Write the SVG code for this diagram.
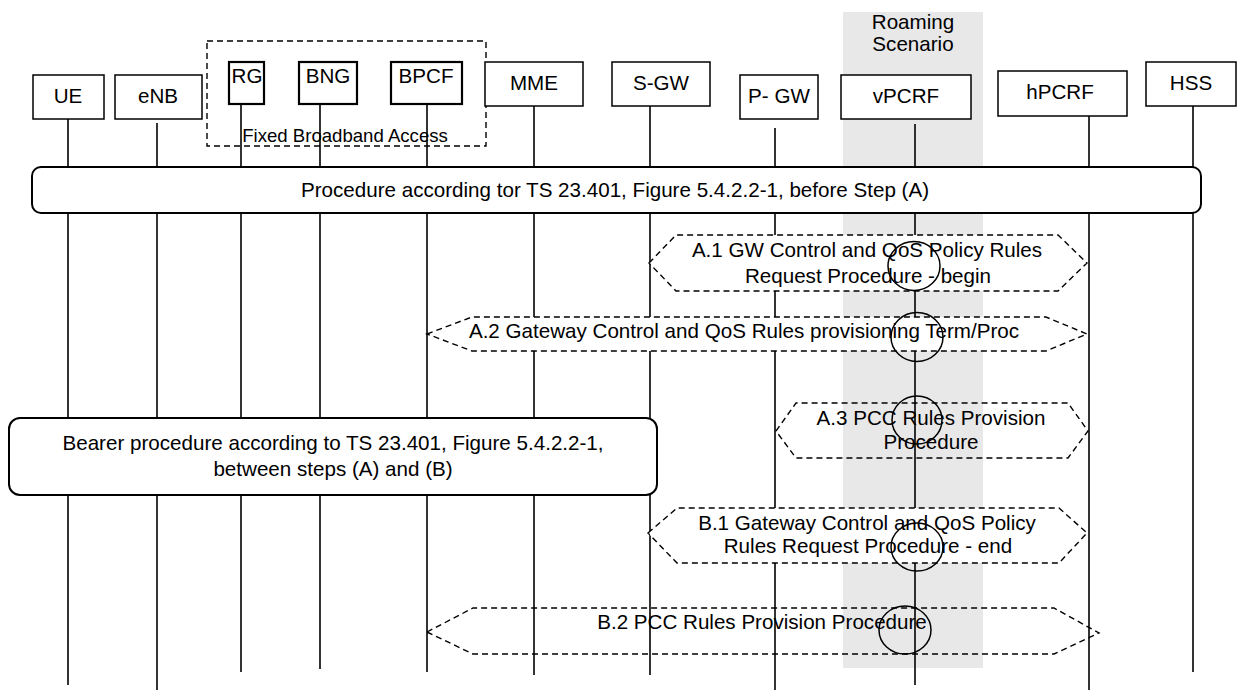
<svg xmlns="http://www.w3.org/2000/svg" width="1237" height="690" viewBox="0 0 1237 690">
<style>
text{font-family:"Liberation Sans",Arial,sans-serif;font-size:20.6px;fill:#000;text-anchor:middle}
.box{fill:#fff;stroke:#000;stroke-width:1.5}
.thick{fill:#fff;stroke:#000;stroke-width:2.2}
.life{stroke:#000;stroke-width:1.6;fill:none}
.dash{stroke:#000;stroke-width:1.4;stroke-dasharray:6 4}
.proc{fill:#fff;stroke:#000;stroke-width:2}
.ring{fill:none;stroke:#000;stroke-width:1.5}
</style>
<rect id="roaming-band" x="843" y="12" width="140" height="656" fill="#e8e8e8"/>
<text x="913" y="29">Roaming</text>
<text x="913" y="51">Scenario</text>
<g id="fixed-broadband-access">
<rect x="207" y="41" width="279" height="105" fill="none" class="dash"/>
</g>
<g id="node-UE"><line class="life" x1="68" y1="119" x2="68" y2="685"/><rect class="box" x="33" y="75" width="71" height="44" stroke-width="1"/><text x="68" y="103">UE</text></g>
<g id="node-eNB"><line class="life" x1="157" y1="123" x2="157" y2="690"/><rect class="box" x="115" y="75" width="87" height="44"/><text x="158" y="103">eNB</text></g>
<g id="node-RG"><line class="life" x1="241" y1="104" x2="241" y2="672"/><rect class="thick" x="229" y="62" width="35" height="42"/><text x="247" y="83">RG</text></g>
<g id="node-BNG"><line class="life" x1="320" y1="104" x2="320" y2="669"/><rect class="thick" x="299" y="62" width="58" height="42"/><text x="328" y="83">BNG</text></g>
<g id="node-BPCF"><line class="life" x1="427" y1="104" x2="427" y2="672"/><rect class="thick" x="391" y="62" width="71" height="42"/><text x="426" y="83">BPCF</text></g>
<text x="345" y="142" style="font-size:18.6px">Fixed Broadband Access</text>
<g id="node-MME"><line class="life" x1="534" y1="106" x2="534" y2="675"/><rect class="box" x="485" y="62" width="98" height="44"/><text x="534" y="90">MME</text></g>
<g id="node-SGW"><line class="life" x1="650" y1="106" x2="650" y2="675"/><rect class="box" x="612" y="62" width="98" height="44"/><text x="661" y="90">S-GW</text></g>
<g id="node-PGW"><line class="life" x1="775" y1="128" x2="775" y2="690"/><rect class="box" x="740" y="75" width="78" height="44"/><text x="779" y="103">P- GW</text></g>
<g id="node-vPCRF"><line class="life" x1="915" y1="124" x2="915" y2="685"/><rect class="box" x="841" y="75" width="130" height="44"/><text x="906" y="103">vPCRF</text></g>
<g id="node-hPCRF"><line class="life" x1="1089" y1="116" x2="1089" y2="690"/><rect class="box" x="998" y="71" width="129" height="45"/><text x="1060" y="99">hPCRF</text></g>
<g id="node-HSS"><line class="life" x1="1193" y1="106" x2="1193" y2="672"/><rect class="box" x="1146" y="62" width="90" height="44"/><text x="1191" y="90">HSS</text></g>
<g id="connectors">
<g id="proc-before-A"><rect class="proc" x="32" y="167" width="1169" height="46" rx="9"/><text x="615" y="197">Procedure according tor TS 23.401, Figure 5.4.2.2-1, before Step (A)</text></g>
<g id="step-A1"><polygon class="dash" fill="#fff" points="649,263 676,235 1058,235 1087,263 1058,291 676,291"/><text x="867" y="257">A.1 GW Control and QoS Policy Rules</text><text x="868" y="283">Request Procedure - begin</text><ellipse class="ring" cx="914" cy="266" rx="26" ry="24.5"/></g>
<g id="step-A2"><polygon class="dash" fill="#fff" points="427,334 472,317 1046,317 1087,334 1046,351 472,351"/><text x="744" y="338">A.2 Gateway Control and QoS Rules provisioning Term/Proc</text><ellipse class="ring" cx="917" cy="337" rx="26" ry="24.5"/></g>
<g id="step-A3"><polygon class="dash" fill="none" points="776,431 796,403 1068,403 1088,431 1068,458 796,458"/><text x="931" y="425">A.3 PCC Rules Provision</text><text x="931" y="449">Procedure</text><ellipse class="ring" cx="917" cy="420" rx="25" ry="24"/></g>
<g id="proc-bearer"><rect class="proc" x="9" y="418" width="648" height="77" rx="11"/><text x="333" y="450">Bearer procedure according to TS 23.401, Figure 5.4.2.2-1,</text><text x="333" y="476">between steps (A) and (B)</text></g>
<g id="step-B1"><polygon class="dash" fill="#fff" points="648,533 677,508 1059,508 1087,533 1059,563 677,563"/><text x="867" y="530">B.1 Gateway Control and QoS Policy</text><text x="868" y="553">Rules Request Procedure - end</text><ellipse class="ring" cx="917" cy="547" rx="26" ry="24"/></g>
<g id="step-B2"><polygon class="dash" fill="none" points="427,632 473,608 1054,608 1099,633 1054,654 473,654"/><text x="762" y="629">B.2 PCC Rules Provision Procedure</text><ellipse class="ring" cx="905" cy="630" rx="26" ry="24"/></g>
</g>
</svg>
